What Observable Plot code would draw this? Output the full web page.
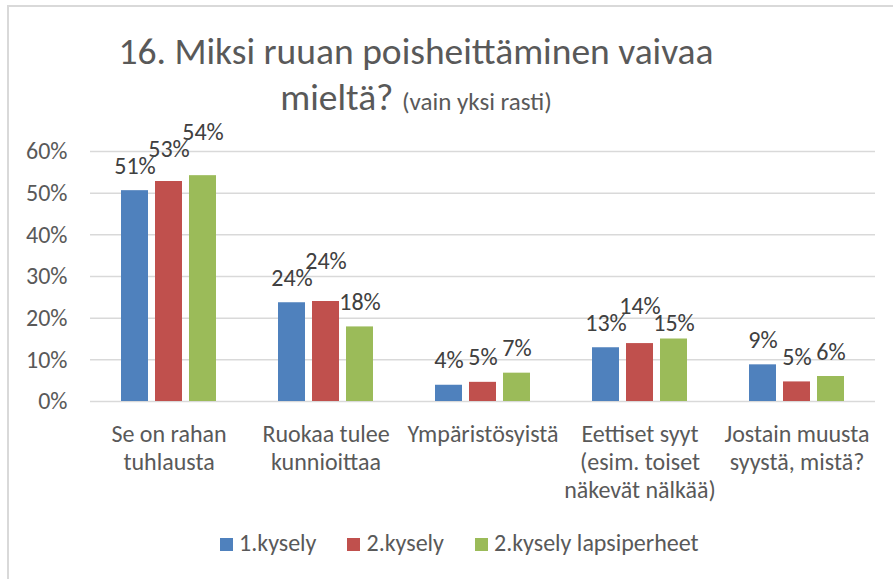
<!DOCTYPE html>
<html><head><meta charset="utf-8">
<script src="https://cdn.jsdelivr.net/npm/d3@7"></script>
<script src="https://cdn.jsdelivr.net/npm/@observablehq/plot@0.6"></script>
<style>
body{margin:0;background:#fff;}
#wrap{position:relative;width:893px;height:579px;overflow:hidden;font-family:Carlito,Calibri,Lato,sans-serif;color:#595959;background:#fff;}
#frame{position:absolute;left:7px;top:5px;width:900px;height:600px;border:2px solid #d9d9d9;box-sizing:border-box;}
#chart{position:absolute;left:0;top:110px;}
.t{position:absolute;left:0;width:832px;text-align:center;white-space:nowrap;}
#t1{top:33px;font-size:37.5px;line-height:37.5px;}
#t2{top:79px;font-size:37.5px;line-height:37.5px;}
#t2 span{font-size:25px;}
#legend{position:absolute;left:220px;top:531px;display:flex;align-items:center;font-size:24px;line-height:24px;}
#legend .it{display:flex;align-items:center;margin-right:31px;}
#legend .sw{width:13px;height:13px;margin-right:6px;margin-top:2px;}
</style></head>
<body>
<div id="wrap">
  <div id="frame"></div>
  <div id="chart"></div>
  <div class="t" id="t1">16. Miksi ruuan poisheittäminen vaivaa</div>
  <div class="t" id="t2">mieltä? <span>(vain yksi rasti)</span></div>
  <div id="legend"></div>
</div>
<script>
const categories = ["Se on rahan\ntuhlausta", "Ruokaa tulee\nkunnioittaa", "Ympäristösyistä", "Eettiset syyt\n(esim. toiset\nnäkevät nälkää)", "Jostain muusta\nsyystä, mistä?"];
const series = ["1.kysely", "2.kysely", "2.kysely lapsiperheet"];
const kysely1 = [0.506, 0.237, 0.039, 0.129, 0.088];
const kysely2 = [0.528, 0.240, 0.046, 0.139, 0.047];
const lapsiperheet = [0.542, 0.179, 0.068, 0.150, 0.060];
const yTicks = [0, 0.1, 0.2, 0.3, 0.4, 0.5, 0.6];
const colors = ["#4f81bd", "#c0504d", "#9bbb59"];

const FONT = "Carlito, Calibri, Lato, sans-serif";
const fmt = d3.format(".0%");
const valuesBySeries = [kysely1, kysely2, lapsiperheet];
const rows = [];
categories.forEach((c, i) => series.forEach((s, j) => {
  const v = valuesBySeries[j][i];
  rows.push({category: c, series: s, value: v, label: fmt(v)});
}));

const W = 893, H = 400;
const base = {
  width: W, height: H,
  marginTop: 41, marginBottom: 109, marginLeft: 90, marginRight: 18,
  fx: {domain: categories, padding: 0, axis: null},
  x: {domain: series, paddingInner: 0.22, paddingOuter: 0.885, axis: null},
  y: {domain: [0, 0.6]},
  color: {domain: series, range: colors},
  style: {fontFamily: FONT, fontSize: "24px", color: "#595959", background: "transparent", overflow: "visible"}
};

// first pass to get scales for simple label collision avoidance
const probe = Plot.plot({...base, marks: [Plot.barY(rows, {fx: "category", x: "series", y: "value", fill: "series"})]});
const xs = probe.scale("x"), ys = probe.scale("y");
const ctx = document.createElement("canvas").getContext("2d");
ctx.font = `24px ${FONT}`;
const LH = 17, GAP = 17;
categories.forEach(c => {
  const placed = [];
  rows.filter(r => r.category === c).forEach(r => {
    const cx = xs.apply(r.series) + xs.bandwidth / 2;
    const w = ctx.measureText(r.label).width;
    const top = ys.apply(r.value);
    let b = top - GAP;
    for (const p of placed) {
      if (Math.abs(p.cx - cx) < (p.w + w) / 2 && Math.abs(p.b - b) < LH) {
        const down = p.b + LH;
        b = (down >= b && down <= top - 7) ? down : Math.min(b, p.b - LH);
      }
    }
    placed.push({cx, w, b});
    r.labelY = ys.invert(b + GAP);
  });
});

const plot = Plot.plot({
  ...base,
  marks: [
    Plot.ruleY(yTicks, {stroke: "#d9d9d9", strokeWidth: 1.5}),
    Plot.barY(rows, {fx: "category", x: "series", y: "value", fill: "series"}),
    Plot.text(rows, {fx: "category", x: "series", y: "labelY", text: "label", dy: -GAP, lineAnchor: "bottom", fontSize: 24, fill: "#404040"}),
    Plot.text(categories, {fx: d => d, text: d => d, frameAnchor: "bottom", lineAnchor: "top", dy: 20, fontSize: 24, lineHeight: 1.18, fill: "#595959"}),
    Plot.axisY({ticks: yTicks, tickFormat: fmt, tickSize: 0, tickPadding: 23, fontSize: 24, label: null})
  ]
});
document.getElementById("chart").appendChild(plot);

const lg = document.getElementById("legend");
series.forEach((s, i) => {
  const it = document.createElement("div"); it.className = "it";
  const sw = document.createElement("div"); sw.className = "sw"; sw.style.background = colors[i];
  const tx = document.createElement("span"); tx.textContent = s;
  it.appendChild(sw); it.appendChild(tx); lg.appendChild(it);
});
</script>
</body></html>
